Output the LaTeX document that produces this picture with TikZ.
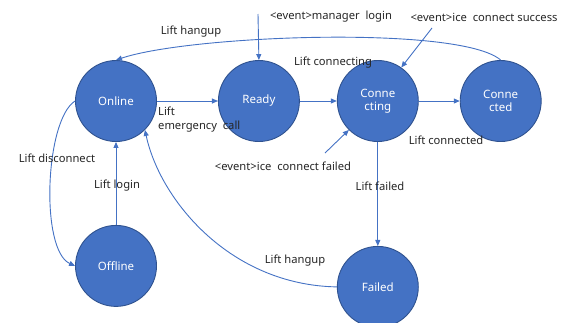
\documentclass[tikz,border=0pt]{standalone}
\usepackage{fontspec}
\setmainfont{Noto Sans}
\usepackage{tikz}
\usetikzlibrary{arrows.meta,positioning}
\definecolor{c1}{RGB}{68,114,196}
\definecolor{c1d}{RGB}{47,82,143}
\begin{document}
\begin{tikzpicture}[x=1pt, y=-1pt,
    state/.style={circle, draw=c1d, fill=c1, line width=0.9pt, minimum size=81pt, inner sep=0pt, align=center, text=white, font=\fontsize{11.5}{13}\selectfont},
    arrow/.style={-{Triangle[length=6pt, width=5pt]}, c1, line width=0.9pt},
    textnode/.style={font=\fontsize{11.2}{14}\selectfont, text=black!85, inner sep=1pt}
]
    \useasboundingbox (0,0) rectangle (567,322);

    % States
    \node[state] (online) at (116,101) {Online};
    \node[state, right=61pt of online] (ready) {Ready};
    \node[state, right=37pt of ready] (conning) {Conne\\cting};
    \node[state, right=41pt of conning] (conned) {Conne\\cted};
    \node[state, below=83pt of online] (offline) {Offline};
    \node[state, below=104pt of conning] (failed) {Failed};

    % Main row
    \draw[arrow] (online) -- (ready);
    \node[textnode, anchor=north west, align=left] (l_emerg) at (157,106) {Lift\\emergency~ call};
    \draw[arrow] (ready) -- (conning);
    \node[textnode] (l_conning) at (333,63) {Lift connecting};
    \draw[arrow] (conning) -- (conned);
    \node[textnode] (l_conned) at (446,140) {Lift connected};
    \draw[arrow] (conning) -- (failed);
    \node[textnode] (l_failed) at (380,186) {Lift failed};

    % Login / disconnect
    \draw[arrow] (offline) -- (online);
    \node[textnode] (l_login) at (117,186) {Lift login};
    \draw[arrow] (online.west) .. controls (45,120) and (40,250) .. (offline.west);
    \node[textnode] (l_disc) at (57,158) {Lift disconnect};

    % Hangups
    \draw[arrow] (conned.north) .. controls (460,25) and (190,35) .. (online.north);
    \node[textnode] (l_hang1) at (191,32) {Lift hangup};
    \draw[arrow] (failed.west) .. controls (230,285) and (160,200) .. (online.south east);
    \node[textnode] (l_hang2) at (295,261) {Lift hangup};

    % Events
    \coordinate (e_mgr) at (258,14);
    \draw[arrow] (e_mgr) -- (ready.north);
    \node[textnode] (l_mgr) at (331,17) {<event>manager~ login};
    \coordinate (e_succ) at (432,28);
    \draw[arrow] (e_succ) -- (conning.55);
    \node[textnode] (l_succ) at (484,17) {<event>ice~ connect success};
    \coordinate (e_fail) at (325,153);
    \draw[arrow] (e_fail) -- (conning.225);
    \node[textnode] (l_fail) at (283,166) {<event>ice~ connect failed};

\end{tikzpicture}
\end{document}
